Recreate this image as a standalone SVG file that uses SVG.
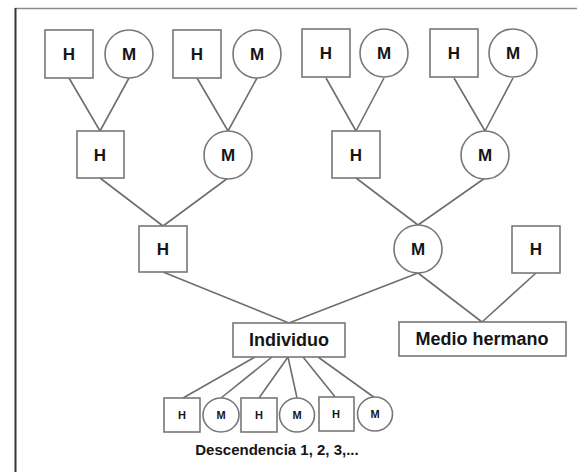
<svg xmlns="http://www.w3.org/2000/svg" width="577" height="472" viewBox="0 0 577 472">
<style>
.n{fill:#fff;stroke:#777;stroke-width:1.6}
.c{stroke:#6e6e6e;stroke-width:1.6;fill:none}
.t{font-family:"Liberation Sans",Arial,sans-serif;font-weight:bold;font-size:17px;fill:#151515;text-anchor:middle;dominant-baseline:central}
.s{font-size:11px}
.b{font-size:18px}
</style>
<rect width="577" height="472" fill="#fff"/>
<g id="frame">
<line x1="15" y1="8.5" x2="577" y2="8.5" stroke="#8a8a8a" stroke-width="1.5"/>
<line x1="15.5" y1="8" x2="15.5" y2="472" stroke="#333" stroke-width="2"/>
</g>
<g id="connectors">
<path class="c" d="M69 78L100 131M129 78L100 131M197 78L228 131M257 78L228 131M326 78L356 131M384 78L356 131M454 78L485 131M513 78L485 131"/>
<path class="c" d="M100 178L163 226M228 178L163 226M356 178L418 225M485 178L418 225"/>
<path class="c" d="M163 272L289 323M418 273L289 323M418 273L482 322M536 273L482 322"/>
<path class="c" d="M255 357L183 398M272 357L221 398M288 357L259 398M288 357L297 398M303 357L336 398M318 357L375 398"/>
</g>
<g id="h1"><rect class="n" x="45" y="30" width="48" height="48"/><text class="t" x="69" y="54">H</text></g>
<g id="m1"><circle class="n" cx="129" cy="54" r="24"/><text class="t" x="129" y="54">M</text></g>
<g id="h2"><rect class="n" x="173" y="30" width="48" height="48"/><text class="t" x="197" y="54">H</text></g>
<g id="m2"><circle class="n" cx="257" cy="54" r="24"/><text class="t" x="257" y="54">M</text></g>
<g id="h3"><rect class="n" x="302" y="29" width="48" height="48"/><text class="t" x="326" y="53">H</text></g>
<g id="m3"><circle class="n" cx="384" cy="53" r="24"/><text class="t" x="384" y="53">M</text></g>
<g id="h4"><rect class="n" x="430" y="29" width="48" height="48"/><text class="t" x="454" y="53">H</text></g>
<g id="m4"><circle class="n" cx="513" cy="53" r="24"/><text class="t" x="513" y="53">M</text></g>
<g id="h5"><rect class="n" x="77" y="131" width="47" height="47"/><text class="t" x="100" y="155">H</text></g>
<g id="m5"><circle class="n" cx="228" cy="155" r="24"/><text class="t" x="228" y="155">M</text></g>
<g id="h6"><rect class="n" x="332" y="131" width="48" height="47"/><text class="t" x="356" y="155">H</text></g>
<g id="m6"><circle class="n" cx="485" cy="155" r="24"/><text class="t" x="485" y="155">M</text></g>
<g id="h7"><rect class="n" x="139" y="226" width="48" height="46"/><text class="t" x="163" y="249">H</text></g>
<g id="m7"><circle class="n" cx="418" cy="249" r="24"/><text class="t" x="418" y="249">M</text></g>
<g id="h8"><rect class="n" x="512" y="226" width="48" height="47"/><text class="t" x="536" y="249">H</text></g>
<g id="individuo"><rect class="n" x="233" y="323" width="112" height="34"/><text class="t b" x="289" y="340">Individuo</text></g>
<g id="medio"><rect class="n" x="399" y="322" width="167" height="34"/><text class="t b" x="482" y="339">Medio hermano</text></g>
<g id="d1"><rect class="n" x="164" y="398" width="36" height="34"/><text class="t s" x="182" y="415">H</text></g>
<g id="d2"><ellipse class="n" cx="221" cy="415" rx="18" ry="17"/><text class="t s" x="221" y="415">M</text></g>
<g id="d3"><rect class="n" x="241" y="398" width="36" height="34"/><text class="t s" x="259" y="415">H</text></g>
<g id="d4"><ellipse class="n" cx="297" cy="415" rx="17.5" ry="17"/><text class="t s" x="297" y="415">M</text></g>
<g id="d5"><rect class="n" x="319" y="397" width="35" height="34"/><text class="t s" x="336" y="414">H</text></g>
<g id="d6"><ellipse class="n" cx="375" cy="414" rx="17.5" ry="17"/><text class="t s" x="375" y="414">M</text></g>
<text class="t" style="font-size:15px" x="277" y="449">Descendencia 1, 2, 3,...</text>
</svg>
